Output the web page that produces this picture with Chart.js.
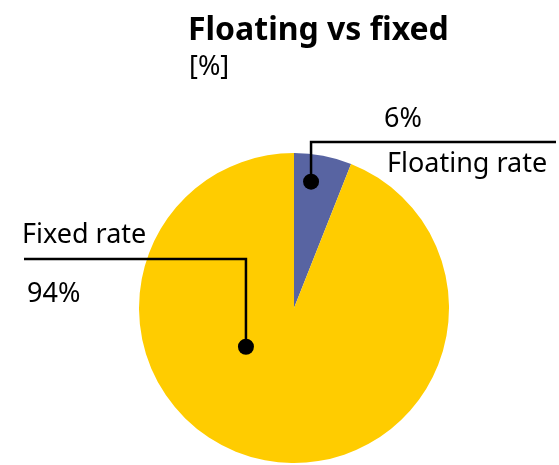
<!DOCTYPE html>
<html>
<head>
<meta charset="utf-8">
<script src="https://cdn.jsdelivr.net/npm/chart.js@4/dist/chart.umd.min.js"></script>
<style>
  html, body { margin: 0; padding: 0; background: #fff; }
  #wrap { width: 559px; height: 465px; position: relative; }
</style>
</head>
<body>
<div id="wrap"><canvas id="rateChart" width="559" height="465"></canvas></div>
<script>
const labels = ['Floating rate', 'Fixed rate'];
const shares = [6, 94];
const colors = ['#5864a2', '#ffcc00'];

const chartTitle = 'Floating vs fixed';
const chartUnit = '[%]';

// callout dot for each slice, as a fraction of the radius from the centre
const dotOffsets = [[0.11, -0.815], [-0.31, 0.25]];

const FONT = '"Noto Sans", sans-serif';

const calloutPlugin = {
  id: 'callouts',
  afterDraw(chart) {
    const ctx = chart.ctx;
    const arcs = chart.getDatasetMeta(0).data;
    const cx = arcs[0].x, cy = arcs[0].y, r = arcs[0].outerRadius;

    ctx.save();
    ctx.fillStyle = '#000';
    ctx.textBaseline = 'alphabetic';

    // title and unit
    ctx.font = 'bold 32px ' + FONT;
    ctx.textAlign = 'left';
    ctx.fillText(chartTitle, 188, 40);
    ctx.font = '27px ' + FONT;
    ctx.fillText(chartUnit, 189, 75);

    ctx.strokeStyle = '#000';
    ctx.lineWidth = 2.5;

    const dots = dotOffsets.map(o => [cx + o[0] * r, cy + o[1] * r]);

    // floating rate: line goes up from the dot, then right
    let [dx, dy] = dots[0];
    ctx.beginPath();
    ctx.moveTo(dx, dy);
    ctx.lineTo(dx, 142);
    ctx.lineTo(556, 142);
    ctx.stroke();
    ctx.beginPath();
    ctx.arc(dx, dy, 8, 0, Math.PI * 2);
    ctx.fill();
    ctx.font = '27px ' + FONT;
    ctx.textAlign = 'center';
    ctx.fillText(shares[0] + '%', 403, 127);
    ctx.textAlign = 'left';
    ctx.fillText(labels[0], 387, 172);

    // fixed rate: line goes up from the dot, then left
    [dx, dy] = dots[1];
    ctx.beginPath();
    ctx.moveTo(dx, dy);
    ctx.lineTo(dx, 259);
    ctx.lineTo(24, 259);
    ctx.stroke();
    ctx.beginPath();
    ctx.arc(dx, dy, 8, 0, Math.PI * 2);
    ctx.fill();
    ctx.fillText(labels[1], 22, 243);
    ctx.fillText(shares[1] + '%', 27, 302);

    ctx.restore();
  }
};

new Chart(document.getElementById('rateChart'), {
  type: 'pie',
  data: {
    labels: labels,
    datasets: [{
      data: shares,
      backgroundColor: colors,
      borderWidth: 0
    }]
  },
  options: {
    responsive: false,
    animation: false,
    layout: { padding: { left: 139, right: 110, top: 153, bottom: 2 } },
    plugins: {
      legend: { display: false },
      tooltip: { enabled: false },
      title: { display: false }
    }
  },
  plugins: [calloutPlugin]
});
</script>
</body>
</html>
